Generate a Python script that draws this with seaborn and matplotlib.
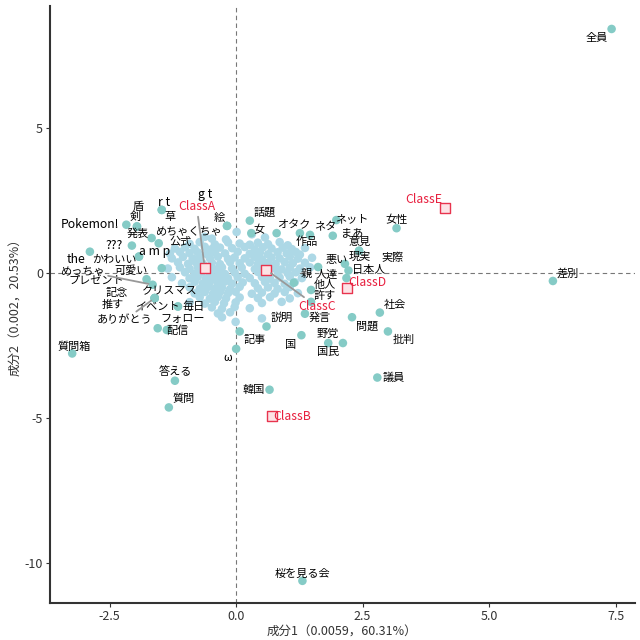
import matplotlib
matplotlib.use("Agg")
import matplotlib.pyplot as plt
import seaborn as sns
import pandas as pd

# ---- data ----
# unlabeled words (cluster near origin)
cluster_x = [0.01, 0.31,
             -0.62, -0.48, -0.20, 0.57,
             -0.92, -0.72, -0.42, -0.16, 0.07, 0.27, 0.43, 0.63, 0.86, 1.02,
             -1.21, -1.01, -0.82, -0.62, -0.48, -0.32, -0.08, 0.17, 0.37, 0.53, 0.70, 0.92, 1.10, 1.36,
             -1.31, -1.11, -0.92, -0.76, -0.58, -0.42, -0.22, 0.03, 0.27, 0.47, 0.63, 0.82, 1.00, 1.18, 1.26,
             -1.27, -1.05, -0.86, -0.72, -0.52, -0.36, -0.16, -0.03, 0.17, 0.37, 0.51, 0.70, 0.86, 1.06, 1.22, 1.50,
             -1.15, -0.95, -0.80, -0.66, -0.48, -0.32, -0.12, 0.07, 0.27, 0.43, 0.63, 0.78, 0.96, 1.12, 1.36,
             -1.35, -1.11, -0.92, -0.76, -0.56, -0.42, -0.28, -0.08, 0.11, 0.37, 0.53, 0.70, 0.90, 1.06, 1.26, 1.46,
             -1.01, -0.82, -0.68, -0.52, -0.36, -0.22, -0.03, 0.17, 0.43, 0.63, 0.82, 1.02, 1.18,
             -1.27, -0.92, -0.76, -0.60, -0.46, -0.32, -0.16, 0.03, 0.27, 0.51, 0.67, 0.86, 1.06, 1.30,
             -1.07, -0.82, -0.66, -0.52, -0.36, -0.22, -0.08, 0.13, 0.37, 0.57, 0.76, 0.96, 1.16,
             -0.92, -0.72, -0.56, -0.42, -0.28, -0.12, 0.07, 0.43, 0.63, 0.82, 1.06,
             -0.82, -0.62, -0.46, -0.32, -0.16, -0.01, 0.31, 0.51, 0.76, 0.96, 1.22,
             -0.72, -0.52, -0.36, -0.20, 0.07, 0.43, 0.67, 1.06,
             -0.92, -0.62, -0.42, -0.24, -0.01, 0.51, 0.90,
             -0.48, -0.28, -0.03, 0.27,
             -0.36, -0.12,
             -0.28, 0.51,
             -0.01]
cluster_y = [1.41, 1.33,
             1.24, 1.18, 1.15, 1.22,
             1.00, 1.06, 0.98, 1.05, 1.01, 0.97, 1.04, 0.99, 1.06, 0.95,
             0.84, 0.88, 0.83, 0.90, 0.82, 0.87, 0.85, 0.89, 0.81, 0.88, 0.84, 0.87, 0.82, 0.86,
             0.66, 0.72, 0.68, 0.71, 0.65, 0.70, 0.67, 0.73, 0.66, 0.70, 0.64, 0.71, 0.67, 0.72, 0.63,
             0.50, 0.55, 0.49, 0.54, 0.51, 0.56, 0.48, 0.53, 0.50, 0.55, 0.47, 0.53, 0.50, 0.56, 0.49, 0.52,
             0.36, 0.31, 0.37, 0.32, 0.35, 0.30, 0.37, 0.33, 0.36, 0.31, 0.35, 0.30, 0.37, 0.33, 0.35,
             0.15, 0.19, 0.14, 0.20, 0.16, 0.12, 0.19, 0.15, 0.18, 0.13, 0.20, 0.16, 0.12, 0.18, 0.15, 0.19,
             0.02, -0.03, 0.03, -0.02, 0.04, -0.04, 0.01, -0.03, 0.03, -0.02, 0.04, -0.01, 0.02,
             -0.15, -0.19, -0.14, -0.20, -0.16, -0.13, -0.19, -0.15, -0.18, -0.14, -0.20, -0.16, -0.13, -0.18,
             -0.36, -0.31, -0.37, -0.32, -0.35, -0.30, -0.37, -0.33, -0.36, -0.31, -0.35, -0.38, -0.32,
             -0.50, -0.55, -0.49, -0.54, -0.51, -0.56, -0.48, -0.53, -0.50, -0.55, -0.49,
             -0.71, -0.66, -0.72, -0.67, -0.70, -0.65, -0.72, -0.68, -0.71, -0.66, -0.70,
             -0.84, -0.89, -0.83, -0.88, -0.85, -0.87, -0.84, -0.88,
             -1.01, -1.06, -1.00, -1.05, -1.02, -1.04, -1.00,
             -1.19, -1.24, -1.18, -1.22,
             -1.40, -1.36,
             -1.53, -1.57,
             -1.69]

# labeled words
words = ["全員", "差別", "議員", "批判", "社会", "問題", "国民", "野党", "国", "記事",
         "ω", "説明", "韓国", "答える", "質問", "質問箱", "桜を見る会",
         "ネット", "まあ", "女性", "意見", "実際", "現実", "日本人", "人達", "悪い",
         "親", "他人", "許す", "発言", "話題", "女", "オタク", "ネタ", "作品",
         "r t", "草", "Pokemon!", "剣", "盾", "発表", "公式", "???", "the", "かわいい",
         "a m p", "可愛い", "プレゼント", "記念", "クリスマス", "推す", "イベント", "毎日",
         "フォロー", "配信", "絵", "めちゃくちゃ", "g t", "めっちゃ", "ありがとう"]
word_x = [7.42, 6.26, 2.79, 3.00, 2.84, 2.29, 2.11, 1.82, 1.29, 0.07,
          0.00, 0.60, 0.66, -1.21, -1.33, -3.24, 1.31,
          1.98, 1.91, 3.17, 2.43, 2.43, 2.15, 2.22, 2.18, 1.62,
          1.14, 1.48, 1.48, 1.36, 0.27, 0.30, 0.80, 1.26, 1.46,
          -1.47, -1.47, -2.17, -1.96, -1.96, -1.67, -1.53, -2.06, -2.89, -1.92,
          -1.92, -1.47, -1.77, -1.61, -1.61, -1.61, -1.15, -1.15,
          -1.55, -1.37, -0.18, -0.18, -0.62, -1.65, -1.61]
word_y = [8.41, -0.28, -3.61, -2.02, -1.37, -1.53, -2.42, -2.42, -2.15, -2.02,
          -2.62, -1.85, -4.03, -3.72, -4.64, -2.78, -10.62,
          1.82, 1.28, 1.54, 0.76, 0.76, 0.31, 0.08, -0.18, 0.20,
          -0.34, -0.59, -1.00, -1.41, 1.80, 1.37, 1.37, 1.37, 1.31,
          2.17, 2.17, 1.66, 1.60, 1.60, 1.20, 1.02, 0.94, 0.73, 0.56,
          0.56, 0.16, -0.22, -0.87, -0.87, -0.87, -1.16, -1.16,
          -1.91, -1.97, 1.62, 1.62, 0.17, -0.41, -0.87]

# class points (column coordinates)
classes = ["ClassA", "ClassB", "ClassC", "ClassD", "ClassE"]
class_x = [-0.62, 0.70, 0.60, 2.19, 4.12]
class_y = [0.17, -4.93, 0.10, -0.51, 2.25]

# ---- label placement (pixel offsets from the point, repel-like) ----
word_off = [(-15, -9), (15, 8), (16, 0), (16, -8), (15, 8), (15, -9), (-15, -9), (-1, 9), (-11, -10), (15, -9),
            (-8, -9), (15, 9), (-16, 0), (0, 9), (15, 9), (2, 7), (0, 7),
            (15, 1), (19, 3), (0, 8), (1, 9), (33, -7), (15, 7), (20, 1), (-20, 3), (19, 7),
            (12, 9), (14, 5), (14, 6), (15, -4), (15, 8), (8, 3), (17, 8), (25, 6), (-3, -7),
            (2, 7), (8, -7), (-36, 0), (-2, 10), (1, 20), (-14, 4), (22, 1), (-18, 0), (-14, -8), (-25, -3),
            (16, 5), (-31, -3), (-50, -2), (-38, 5), (15, 7), (-42, -7), (-21, 0), (16, 0),
            (25, 8), (11, -1), (-8, 8), (-39, -5), (0, 73), (-70, 14), (-30, -22)]
word_seg = {"めっちゃ", "ありがとう"}
latin_words = {"r t", "g t", "Pokemon!", "???", "the", "a m p"}
class_off = [(-8, 61), (21, -1), (51, -37), (20, 5), (-21, 8)]
class_seg = {"ClassA", "ClassC"}

cluster_df = pd.DataFrame({"x": cluster_x, "y": cluster_y})
word_df = pd.DataFrame({"word": words, "x": word_x, "y": word_y})
class_df = pd.DataFrame({"cls": classes, "x": class_x, "y": class_y})

sns.set_theme(style="ticks")
plt.rcParams["font.family"] = ["Noto Sans CJK JP", "DejaVu Sans"]
plt.rcParams["axes.unicode_minus"] = False

fig = plt.figure(figsize=(6.4, 6.4), dpi=100)
ax = fig.add_axes([0.078, 0.058, 0.914, 0.933])

ax.axhline(0, ls=(0, (4, 3)), color="#777777", lw=0.8, zorder=1)
ax.axvline(0, ls=(0, (4, 3)), color="#777777", lw=0.8, zorder=1)

sns.scatterplot(data=cluster_df, x="x", y="y", color="#ADD8E6", s=38,
                edgecolor="none", linewidth=0, ax=ax, zorder=2)
sns.scatterplot(data=word_df, x="x", y="y", color="#85CBC6", s=38,
                edgecolor="none", linewidth=0, ax=ax, zorder=3)
sns.scatterplot(data=class_df, x="x", y="y", marker="s", s=45,
                facecolor="#FCE3E6", edgecolor="#E8344E", linewidth=1.0, ax=ax, zorder=4)

for w, x, y, (dx, dy) in zip(words, word_x, word_y, word_off):
    kw = {}
    if w in word_seg:
        kw["arrowprops"] = dict(arrowstyle="-", color="#999999", lw=1.3,
                                shrinkA=0, shrinkB=3)
    fs = 8.8 if w in latin_words else 8
    ax.annotate(w, xy=(x, y), xytext=(dx, dy), textcoords="offset pixels",
                ha="center", va="center", fontsize=fs, color="black", zorder=5, **kw)

for c, x, y, (dx, dy) in zip(classes, class_x, class_y, class_off):
    kw = {}
    if c in class_seg:
        kw["arrowprops"] = dict(arrowstyle="-", color="#999999", lw=1.3,
                                shrinkA=0, shrinkB=4)
    ax.annotate(c, xy=(x, y), xytext=(dx, dy), textcoords="offset pixels",
                ha="center", va="center", fontsize=8.8, color="#E8203F", zorder=5, **kw)

ax.set_xlim(-3.68, 7.88)
ax.set_ylim(-11.38, 9.21)
ax.set_xticks([-2.5, 0.0, 2.5, 5.0, 7.5])
ax.set_xticklabels(["-2.5", "0.0", "2.5", "5.0", "7.5"])
ax.set_yticks([-10, -5, 0, 5])
ax.set_yticklabels(["-10", "-5", "0", "5"])
ax.tick_params(axis="both", labelsize=9, length=3, width=0.8, color="#333333",
               labelcolor="#333333", pad=2)
for side in ["top", "right"]:
    ax.spines[side].set_visible(False)
for side in ["left", "bottom"]:
    ax.spines[side].set_color("#333333")
    ax.spines[side].set_linewidth(1.5)

ax.set_xlabel("成分1（0.0059，60.31%）", fontsize=9, color="#333333", labelpad=2)
ax.set_ylabel("成分2（0.002，20.53%）", fontsize=9, color="#333333", labelpad=2)

fig.savefig("out.png", dpi=100)
